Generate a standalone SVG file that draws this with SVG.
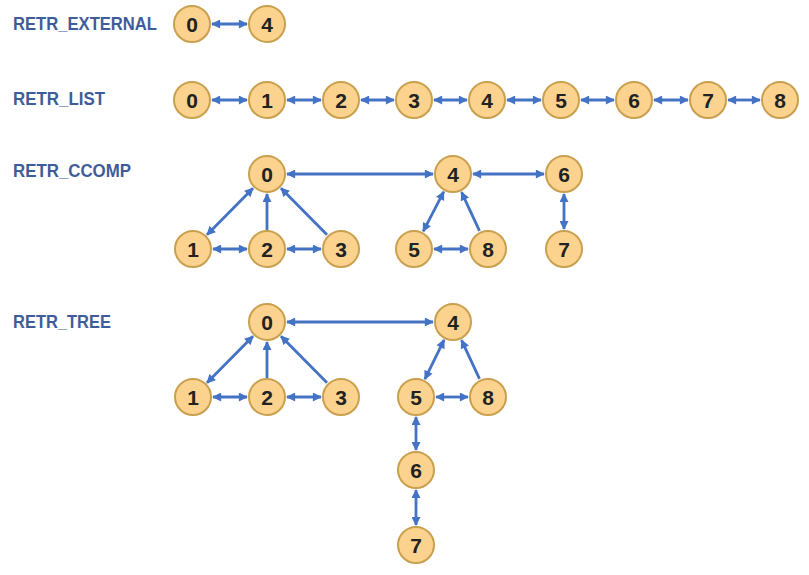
<svg xmlns="http://www.w3.org/2000/svg" width="809" height="575" viewBox="0 0 809 575">
<style>
.lbl{font-family:"Liberation Sans",Arial,sans-serif;font-weight:bold;font-size:18px;fill:#3F5C9A}
.n circle{fill:#FBD38F;stroke:#C9A04E;stroke-width:2}
.n text{font-family:"Liberation Sans",Arial,sans-serif;font-weight:bold;font-size:21px;fill:#222;text-anchor:middle}
.e line{stroke:#4472C4;stroke-width:2.8;fill:none}
.d{marker-start:url(#ah);marker-end:url(#ah)}
.s{marker-end:url(#ah)}
</style>
<defs>
<marker id="ah" viewBox="0 0 10 10" refX="9" refY="5" markerWidth="10" markerHeight="9" markerUnits="userSpaceOnUse" orient="auto-start-reverse">
<path d="M0,0 L10,5 L0,10 z" fill="#4472C4"/>
</marker>
</defs>
<rect width="809" height="575" fill="#fff"/>
<text class="lbl" x="13" y="30" textLength="144" lengthAdjust="spacingAndGlyphs">RETR_EXTERNAL</text>
<text class="lbl" x="13" y="105" textLength="92" lengthAdjust="spacingAndGlyphs">RETR_LIST</text>
<text class="lbl" x="13" y="177" textLength="118" lengthAdjust="spacingAndGlyphs">RETR_CCOMP</text>
<text class="lbl" x="13" y="328" textLength="98" lengthAdjust="spacingAndGlyphs">RETR_TREE</text>
<g id="connectors" class="e">
<line class="d" x1="212" y1="24" x2="247" y2="24"/>
<line class="d" x1="212" y1="100" x2="247" y2="100"/>
<line class="d" x1="287" y1="100" x2="321" y2="100"/>
<line class="d" x1="361" y1="100" x2="394" y2="100"/>
<line class="d" x1="434" y1="100" x2="467" y2="100"/>
<line class="d" x1="507" y1="100" x2="541" y2="100"/>
<line class="d" x1="581" y1="100" x2="614" y2="100"/>
<line class="d" x1="654" y1="100" x2="688" y2="100"/>
<line class="d" x1="728" y1="100" x2="760" y2="100"/>
<line class="d" x1="287" y1="174" x2="433" y2="174"/>
<line class="d" x1="473" y1="174" x2="544" y2="174"/>
<line class="d" x1="564" y1="194" x2="564" y2="229"/>
<line class="d" x1="253" y1="188.2" x2="207" y2="234.8"/>
<line class="s" x1="267" y1="230" x2="267" y2="194"/>
<line class="s" x1="327" y1="234.8" x2="281" y2="188.2"/>
<line class="d" x1="213" y1="249" x2="247" y2="249"/>
<line class="d" x1="287" y1="249" x2="321" y2="249"/>
<line class="d" x1="443.8" y1="191.7" x2="423.2" y2="231.3"/>
<line class="s" x1="479.5" y1="230.9" x2="461.5" y2="192.1"/>
<line class="d" x1="434" y1="249" x2="468" y2="249"/>
<line class="d" x1="287" y1="322" x2="433" y2="322"/>
<line class="d" x1="253" y1="336.2" x2="207" y2="382.8"/>
<line class="s" x1="267" y1="378" x2="267" y2="342"/>
<line class="s" x1="327" y1="382.8" x2="281" y2="336.2"/>
<line class="d" x1="213" y1="397" x2="247" y2="397"/>
<line class="d" x1="287" y1="397" x2="321" y2="397"/>
<line class="d" x1="444.1" y1="339.9" x2="424.9" y2="379.1"/>
<line class="s" x1="479.5" y1="378.9" x2="461.5" y2="340.1"/>
<line class="d" x1="436" y1="397" x2="468" y2="397"/>
<line class="d" x1="416" y1="417" x2="416" y2="450"/>
<line class="d" x1="416" y1="490" x2="416" y2="525"/>
</g>
<g id="ext0" class="n"><circle cx="192" cy="24" r="18"/><text x="192" y="31.5">0</text></g>
<g id="ext4" class="n"><circle cx="267" cy="24" r="18"/><text x="267" y="31.5">4</text></g>
<g id="list0" class="n"><circle cx="192" cy="100" r="18"/><text x="192" y="107.5">0</text></g>
<g id="list1" class="n"><circle cx="267" cy="100" r="18"/><text x="267" y="107.5">1</text></g>
<g id="list2" class="n"><circle cx="341" cy="100" r="18"/><text x="341" y="107.5">2</text></g>
<g id="list3" class="n"><circle cx="414" cy="100" r="18"/><text x="414" y="107.5">3</text></g>
<g id="list4" class="n"><circle cx="487" cy="100" r="18"/><text x="487" y="107.5">4</text></g>
<g id="list5" class="n"><circle cx="561" cy="100" r="18"/><text x="561" y="107.5">5</text></g>
<g id="list6" class="n"><circle cx="634" cy="100" r="18"/><text x="634" y="107.5">6</text></g>
<g id="list7" class="n"><circle cx="708" cy="100" r="18"/><text x="708" y="107.5">7</text></g>
<g id="list8" class="n"><circle cx="780" cy="100" r="18"/><text x="780" y="107.5">8</text></g>
<g id="cc0" class="n"><circle cx="267" cy="174" r="18"/><text x="267" y="181.5">0</text></g>
<g id="cc4" class="n"><circle cx="453" cy="174" r="18"/><text x="453" y="181.5">4</text></g>
<g id="cc6" class="n"><circle cx="564" cy="174" r="18"/><text x="564" y="181.5">6</text></g>
<g id="cc1" class="n"><circle cx="193" cy="249" r="18"/><text x="193" y="256.5">1</text></g>
<g id="cc2" class="n"><circle cx="267" cy="249" r="18"/><text x="267" y="256.5">2</text></g>
<g id="cc3" class="n"><circle cx="341" cy="249" r="18"/><text x="341" y="256.5">3</text></g>
<g id="cc5" class="n"><circle cx="414" cy="249" r="18"/><text x="414" y="256.5">5</text></g>
<g id="cc8" class="n"><circle cx="488" cy="249" r="18"/><text x="488" y="256.5">8</text></g>
<g id="cc7" class="n"><circle cx="564" cy="249" r="18"/><text x="564" y="256.5">7</text></g>
<g id="tr0" class="n"><circle cx="267" cy="322" r="18"/><text x="267" y="329.5">0</text></g>
<g id="tr4" class="n"><circle cx="453" cy="322" r="18"/><text x="453" y="329.5">4</text></g>
<g id="tr1" class="n"><circle cx="193" cy="397" r="18"/><text x="193" y="404.5">1</text></g>
<g id="tr2" class="n"><circle cx="267" cy="397" r="18"/><text x="267" y="404.5">2</text></g>
<g id="tr3" class="n"><circle cx="341" cy="397" r="18"/><text x="341" y="404.5">3</text></g>
<g id="tr5" class="n"><circle cx="416" cy="397" r="18"/><text x="416" y="404.5">5</text></g>
<g id="tr8" class="n"><circle cx="488" cy="397" r="18"/><text x="488" y="404.5">8</text></g>
<g id="tr6" class="n"><circle cx="416" cy="470" r="18"/><text x="416" y="477.5">6</text></g>
<g id="tr7" class="n"><circle cx="416" cy="545" r="18"/><text x="416" y="552.5">7</text></g>
</svg>
